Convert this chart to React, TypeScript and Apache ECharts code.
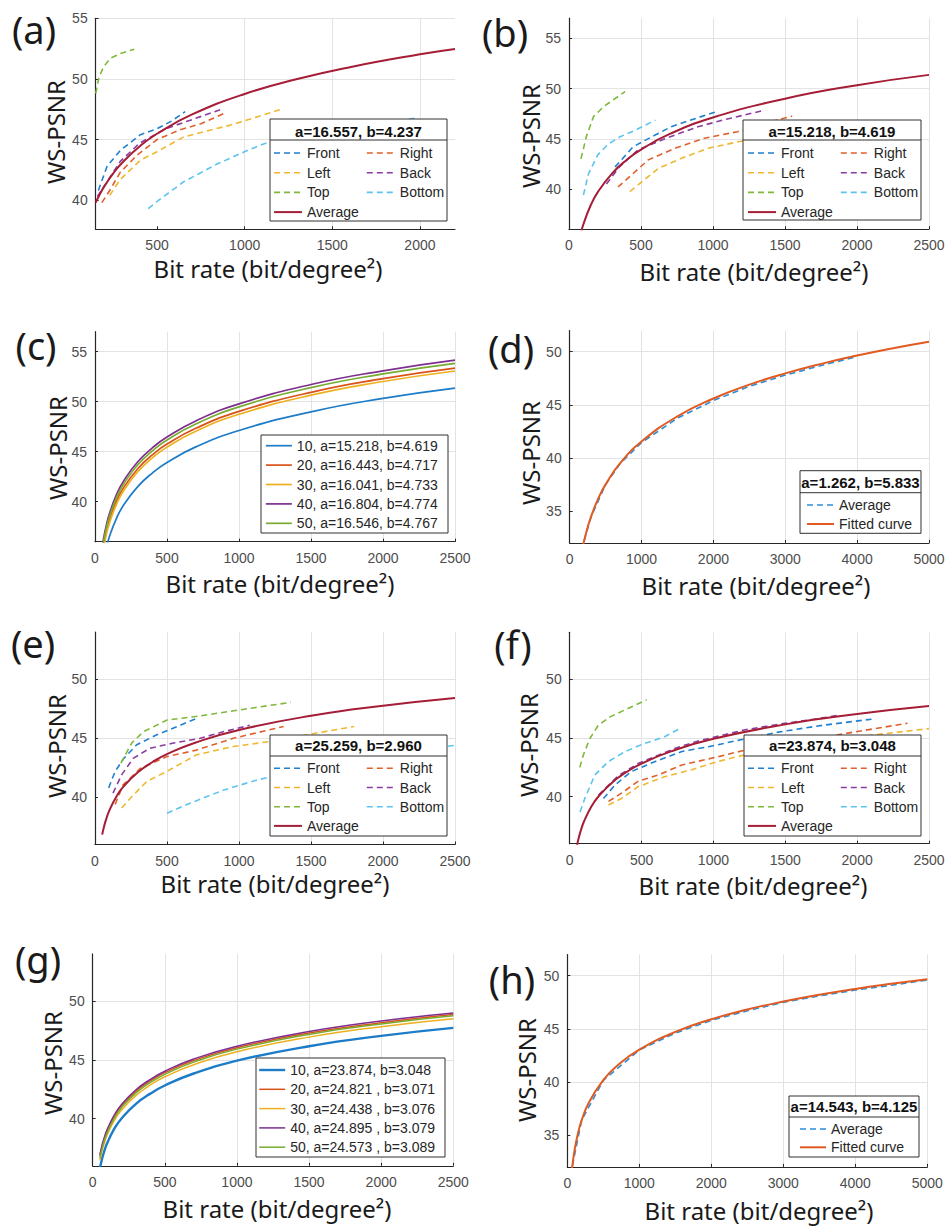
import React, { useEffect, useRef } from "react";
import * as echarts from "echarts";

// ---------------- data ----------------
// panel (a)
const A_FRONT = [[165, 40.8], [215, 42.8], [290, 44.1], [405, 45.4], [500, 45.9], [580, 46.5], [660, 47.3]];
const A_RIGHT = [[185, 39.8], [230, 40.8], [290, 42.3], [385, 43.7], [500, 45.0], [630, 45.8], [750, 46.3], [890, 47.2]];
const A_LEFT = [[230, 40.4], [290, 41.7], [405, 43.3], [500, 44.0], [650, 45.2], [770, 45.65], [920, 46.2], [1200, 47.45]];
const A_BACK = [[160, 40.3], [205, 41.3], [290, 43.2], [400, 44.7], [550, 45.9], [690, 46.6], [870, 47.5]];
const A_TOP = [[150, 48.8], [168, 50.1], [195, 51.0], [233, 51.7], [290, 52.1], [370, 52.45]];
const A_BOTTOM = [[450, 39.3], [510, 40.0], [650, 41.5], [845, 43.0], [1015, 44.1], [1120, 44.7], [1500, 45.8], [1970, 46.75]];
const A_AVG_X = [150, 175, 200, 250, 300, 400, 500, 700, 1000, 1300, 1600, 2000, 2200];
const A_AVG_Y = [39.8, 40.53, 41.16, 42.21, 43.07, 44.43, 45.48, 47.07, 48.76, 49.99, 50.97, 52.03, 52.47];

// panel (b)
const B_FRONT = [[320, 42.2], [445, 44.2], [595, 45.35], [710, 46.2], [895, 47.1], [1025, 47.7]];
const B_RIGHT = [[340, 40.2], [435, 41.4], [550, 42.9], [735, 44.05], [940, 45.05], [1170, 45.7], [1400, 46.7], [1550, 47.25]];
const B_LEFT = [[423, 39.75], [505, 40.7], [620, 42.05], [780, 43.05], [965, 44.05], [1175, 44.7], [1500, 45.4]];
const B_BACK = [[260, 40.5], [350, 42.2], [480, 43.9], [665, 45.0], [895, 46.2], [1080, 46.9], [1360, 47.85]];
const B_TOP = [[83, 43.0], [100, 44.0], [120, 45.2], [170, 47.2], [240, 48.2], [390, 49.7]];
const B_BOTTOM = [[100, 39.4], [135, 41.5], [200, 43.4], [275, 44.5], [355, 45.2], [460, 45.85], [600, 46.85]];

// shared bit-rate samples for the fitted curves of (b), (c), (e), (f), (g)
const FIT_X = [50, 60, 75, 100, 150, 200, 300, 400, 500, 700, 1000, 1500, 2000, 2500];
// panel (c) (curve "10" is also the Average of (b))
const C_10 = [33.29, 34.13, 35.16, 36.49, 38.36, 39.69, 41.56, 42.89, 43.92, 45.48, 47.12, 48.99, 50.33, 51.36];
const C_20 = [34.90, 35.75, 36.81, 38.17, 40.08, 41.43, 43.35, 44.70, 45.76, 47.34, 49.03, 50.94, 52.30, 53.35];
const C_30 = [34.56, 35.42, 36.47, 37.84, 39.76, 41.12, 43.04, 44.40, 45.46, 47.05, 48.74, 50.65, 52.02, 53.07];
const C_40 = [35.48, 36.35, 37.41, 38.79, 40.73, 42.10, 44.04, 45.40, 46.47, 48.08, 49.78, 51.72, 53.09, 54.16];
const C_50 = [35.19, 36.06, 37.13, 38.50, 40.43, 41.80, 43.74, 45.10, 46.17, 47.77, 49.48, 51.41, 52.78, 53.84];
const C_NAMES = ["10, a=15.218, b=4.619", "20, a=16.443, b=4.717", "30, a=16.041, b=4.733", "40, a=16.804, b=4.774", "50, a=16.546, b=4.767"];

// panel (d)
const D_FIT_X = [190, 200, 250, 300, 400, 500, 700, 1000, 1500, 2000, 2500, 3000, 3500, 4000, 4500, 5000];
const D_FIT_Y = [31.87, 32.17, 33.47, 34.53, 36.21, 37.51, 39.48, 41.55, 43.92, 45.60, 46.90, 47.96, 48.86, 49.64, 50.33, 50.94];
const D_AVG = [[200, 32.2], [300, 34.5], [500, 37.5], [700, 39.45], [1000, 41.45], [1250, 42.6], [1500, 43.75], [2000, 45.4], [2500, 46.75], [3000, 47.8], [3500, 48.7], [4000, 49.55]];

// panel (e)
const E_FRONT = [[95, 40.8], [140, 42.2], [200, 43.3], [290, 44.45], [430, 45.3], [590, 46.1], [710, 46.7]];
const E_RIGHT = [[140, 39.4], [195, 41.05], [315, 42.45], [500, 43.45], [705, 44.0], [960, 45.0], [1310, 46.0]];
const E_LEFT = [[185, 39.1], [255, 40.05], [360, 41.35], [500, 42.2], [705, 43.6], [960, 44.3], [1260, 44.8], [1540, 45.45], [1800, 46.0]];
const E_BACK = [[125, 40.35], [185, 41.9], [265, 43.3], [380, 44.15], [545, 44.6], [730, 45.0], [890, 45.55], [1075, 46.1]];
const E_TOP = [[180, 42.9], [255, 44.6], [335, 45.55], [500, 46.55], [730, 46.9], [1000, 47.4], [1360, 48.05]];
const E_BOTTOM = [[500, 38.65], [660, 39.5], [890, 40.6], [1120, 41.45], [1500, 42.5], [2000, 43.6], [2500, 44.4]];
const E_AVG_Y = [36.84, 37.38, 38.04, 38.89, 40.09, 40.94, 42.14, 42.99, 43.66, 44.65, 45.71, 46.91, 47.76, 48.42];

// panel (f)
const F_FRONT = [[235, 39.85], [315, 41.0], [430, 42.15], [595, 43.0], [780, 43.85], [965, 44.25], [1170, 44.8], [1450, 45.5], [1770, 46.1], [2100, 46.6]];
const F_RIGHT = [[270, 39.6], [360, 40.3], [475, 41.3], [615, 41.85], [780, 42.7], [1030, 43.4], [1265, 44.1], [1590, 44.7], [2000, 45.55], [2350, 46.25]];
const F_LEFT = [[270, 39.3], [360, 39.85], [475, 40.85], [660, 41.7], [850, 42.3], [1030, 43.0], [1265, 43.7], [1600, 44.4], [2000, 45.1], [2500, 45.8]];
const F_BACK = [[200, 40.15], [340, 41.8], [480, 42.85], [730, 44.1], [895, 44.75], [1220, 45.7], [1470, 46.2], [1700, 46.6], [1880, 46.95]];
const F_TOP = [[70, 42.5], [95, 43.55], [140, 44.95], [200, 46.1], [280, 46.8], [385, 47.4], [535, 48.25]];
const F_BOTTOM = [[72, 38.7], [105, 39.85], [175, 41.85], [270, 43.0], [385, 43.85], [525, 44.55], [660, 45.1], [765, 45.8]];

// panel (g) (curve "10" is also the Average of (f))
const G_10 = [35.80, 36.35, 37.03, 37.91, 39.15, 40.02, 41.26, 42.13, 42.82, 43.84, 44.93, 46.16, 47.04, 47.72];
const G_20 = [36.83, 37.39, 38.08, 38.96, 40.21, 41.09, 42.34, 43.22, 43.91, 44.94, 46.03, 47.28, 48.16, 48.85];
const G_30 = [36.47, 37.03, 37.72, 38.60, 39.85, 40.74, 41.98, 42.87, 43.56, 44.59, 45.69, 46.93, 47.82, 48.50];
const G_40 = [36.94, 37.50, 38.19, 39.07, 40.32, 41.21, 42.46, 43.34, 44.03, 45.07, 46.16, 47.41, 48.30, 48.98];
const G_50 = [36.66, 37.22, 37.91, 38.80, 40.05, 40.94, 42.19, 43.08, 43.77, 44.81, 45.91, 47.16, 48.05, 48.74];
const G_NAMES = ["10, a=23.874, b=3.048", "20, a=24.821 , b=3.071", "30, a=24.438 , b=3.076", "40, a=24.895 , b=3.079", "50, a=24.573 , b=3.089"];

// panel (h)
const H_FIT_X = [65, 70, 100, 150, 200, 300, 500, 700, 1000, 1500, 2000, 2500, 3000, 3500, 4000, 4500, 5000];
const H_FIT_Y = [31.76, 32.07, 33.54, 35.21, 36.40, 38.07, 40.18, 41.57, 43.04, 44.71, 45.90, 46.82, 47.57, 48.21, 48.76, 49.24, 49.68];
const H_AVG = [[70, 32.1], [200, 36.4], [500, 40.15], [1000, 43.0], [1500, 44.6], [2000, 45.8], [2500, 46.7], [3000, 47.5], [3500, 48.1], [4000, 48.65], [4500, 49.1], [5000, 49.6]];

// titles / tick labels
const FIT_TITLES: Record<string, string> = {
  a: "a=16.557, b=4.237",
  b: "a=15.218, b=4.619",
  d: "a=1.262, b=5.833",
  e: "a=25.259, b=2.960",
  f: "a=23.874, b=3.048",
  h: "a=14.543, b=4.125",
};
const FACES = ["Front", "Right", "Left", "Back", "Top", "Bottom"];
const X_TICKS_A = [500, 1000, 1500, 2000];
const Y_TICKS_40_55 = [40, 45, 50, 55];
const Y_TICKS_40_50 = [40, 45, 50];
const Y_TICKS_35_50 = [35, 40, 45, 50];
const X_LABEL = "Bit rate (bit/degree\u00B2)";
const Y_LABEL = "WS-PSNR";

// ---------------- styles / layout ----------------
const FONT = '"Liberation Sans", Arial, Helvetica, sans-serif';
const NAME_FONT = '"Noto Sans", "Open Sans", sans-serif';
const AXIS = "#262626";
const TICK = "#4d4d4d";
const GRIDC = "#e3e3e3";
const FACE_COLORS = ["#1f80d0", "#e0602c", "#f0b730", "#8a3d9e", "#7fb83a", "#5cc4ee"];
const AVG_COLOR = "#a51d36";
const CURVE_COLORS = ["#1c7cc8", "#d95319", "#edb120", "#7e2f8e", "#77ac30"];
const DASH = [6, 4];

type PanelCfg = {
  id: string;
  grid: [number, number, number, number];
  x: { min: number; max: number; interval?: number; ticks?: number[] };
  y: { min: number; max: number; ticks: number[] };
  label: [number, number];
  xName: [number, number];
  yName: [number, number];
};

const PANELS: PanelCfg[] = [
  { id: "a", grid: [95.7, 18.3, 359.3, 211], x: { min: 150, max: 2200, ticks: X_TICKS_A }, y: { min: 37.6, max: 55, ticks: Y_TICKS_40_55 }, label: [34, 29], xName: [268, 268], yName: [55, 132] },
  { id: "b", grid: [569, 18.2, 360, 211], x: { min: 0, max: 2500, interval: 500 }, y: { min: 36, max: 57, ticks: Y_TICKS_40_55 }, label: [505, 32], xName: [754, 271], yName: [530, 136] },
  { id: "c", grid: [95, 331.7, 360, 210], x: { min: 0, max: 2500, interval: 500 }, y: { min: 36, max: 57, ticks: Y_TICKS_40_55 }, label: [36, 345], xName: [280, 583], yName: [57, 448] },
  { id: "d", grid: [569.7, 330.5, 359.3, 212.4], x: { min: 0, max: 5000, interval: 1000 }, y: { min: 32, max: 52, ticks: Y_TICKS_35_50 }, label: [511, 348], xName: [756, 585], yName: [530, 453] },
  { id: "e", grid: [95, 632.1, 360, 212.4], x: { min: 0, max: 2500, interval: 500 }, y: { min: 36, max: 54, ticks: Y_TICKS_40_50 }, label: [33, 643], xName: [275, 883], yName: [56, 746] },
  { id: "f", grid: [569.7, 632.3, 359.3, 211.4], x: { min: 0, max: 2500, interval: 500 }, y: { min: 36, max: 54, ticks: Y_TICKS_40_50 }, label: [513, 644], xName: [753, 885], yName: [528, 745] },
  { id: "g", grid: [92.7, 953.9, 360.6, 211.9], x: { min: 0, max: 2500, interval: 500 }, y: { min: 36, max: 54, ticks: Y_TICKS_40_50 }, label: [38, 959], xName: [277, 1208], yName: [52.5, 1063] },
  { id: "h", grid: [567.3, 954.5, 360, 212.4], x: { min: 0, max: 5000, interval: 1000 }, y: { min: 32, max: 52, ticks: Y_TICKS_35_50 }, label: [512, 979], xName: [759, 1210], yName: [526.5, 1070] },
];

// legend boxes: [x, y, w, h], title centre y, separator y, columns
type LegCol = { left: number; top: number; names: string[] };
type LegCfg = { box: [number, number, number, number]; titleY?: number; sepY?: number; itemWidth: number; itemGap: number; cols: LegCol[] };

const zip = (xs: number[], ys: number[]) => xs.map((x, i) => [x, ys[i]]);
const strip = (n: string) => n.split("@")[0];
const plain = (v: number) => String(v);

function buildOption() {
  const grid: any[] = [];
  const xAxis: any[] = [];
  const yAxis: any[] = [];
  const series: any[] = [];
  const legend: any[] = [];
  const graphic: any[] = [];

  PANELS.forEach((p, i) => {
    grid.push({ left: p.grid[0], top: p.grid[1], width: p.grid[2], height: p.grid[3], containLabel: false, outerBoundsMode: "none" });
    const xCustom = p.x.ticks ? { customValues: p.x.ticks } : {};
    xAxis.push({
      type: "value",
      gridIndex: i,
      min: p.x.min,
      max: p.x.max,
      ...(p.x.interval ? { interval: p.x.interval } : {}),
      axisLine: { show: true, onZero: false, lineStyle: { color: AXIS, width: 1.2 } },
      axisTick: { show: true, inside: true, length: 3, lineStyle: { color: AXIS }, ...xCustom },
      axisLabel: { show: true, color: TICK, fontSize: 14, fontFamily: FONT, margin: 9, formatter: plain, ...xCustom },
      splitLine: { show: true, showMinLine: false, lineStyle: { color: GRIDC, width: 1 } },
    });
    yAxis.push({
      type: "value",
      gridIndex: i,
      min: p.y.min,
      max: p.y.max,
      axisLine: { show: true, onZero: false, lineStyle: { color: AXIS, width: 1.2 } },
      axisTick: { show: true, inside: true, length: 3, lineStyle: { color: AXIS }, customValues: p.y.ticks },
      axisLabel: { show: true, color: TICK, fontSize: 14, fontFamily: FONT, margin: 8, formatter: plain, customValues: p.y.ticks },
      splitLine: { show: true, showMinLine: false, lineStyle: { color: GRIDC, width: 1 } },
    });
    graphic.push(
      { type: "text", x: p.label[0], y: p.label[1], z: 5, style: { text: `(${p.id})`, fill: "#1a1a1a", font: `38px ${NAME_FONT}`, align: "center", verticalAlign: "middle" } },
      { type: "text", x: p.xName[0], y: p.xName[1], z: 5, style: { text: X_LABEL, fill: "#1a1a1a", font: `24px ${NAME_FONT}`, align: "center", verticalAlign: "middle" } },
      { type: "text", x: p.yName[0], y: p.yName[1], rotation: Math.PI / 2, z: 5, style: { text: Y_LABEL, fill: "#1a1a1a", font: `24px ${NAME_FONT}`, align: "center", verticalAlign: "middle" } }
    );
  });

  const line = (name: string, idx: number, data: number[][], color: string, width: number, dashed: boolean, smooth: boolean) => {
    series.push({
      type: "line",
      name,
      xAxisIndex: idx,
      yAxisIndex: idx,
      data,
      color,
      symbol: "none",
      showSymbol: false,
      smooth,
      silent: true,
      z: 2,
      lineStyle: { color, width, type: dashed ? DASH : "solid" },
      itemStyle: { color },
    });
  };

  // face panels (a, b, e, f)
  const facePanels: [number, string, number[][][], number[][]][] = [
    [0, "a", [A_FRONT, A_RIGHT, A_LEFT, A_BACK, A_TOP, A_BOTTOM], zip(A_AVG_X, A_AVG_Y)],
    [1, "b", [B_FRONT, B_RIGHT, B_LEFT, B_BACK, B_TOP, B_BOTTOM], zip(FIT_X, C_10)],
    [4, "e", [E_FRONT, E_RIGHT, E_LEFT, E_BACK, E_TOP, E_BOTTOM], zip(FIT_X, E_AVG_Y)],
    [5, "f", [F_FRONT, F_RIGHT, F_LEFT, F_BACK, F_TOP, F_BOTTOM], zip(FIT_X, G_10)],
  ];
  facePanels.forEach(([idx, id, faces, avg]) => {
    faces.forEach((d, k) => line(`${FACES[k]}@${id}`, idx, d, FACE_COLORS[k], 1.6, true, false));
    line(`Average@${id}`, idx, avg, AVG_COLOR, 2, false, true);
  });

  // (c) and (g)
  [C_10, C_20, C_30, C_40, C_50].forEach((ys, k) => line(`${C_NAMES[k]}@c`, 2, zip(FIT_X, ys), CURVE_COLORS[k], 1.7, false, true));
  [G_10, G_20, G_30, G_40, G_50].forEach((ys, k) => line(`${G_NAMES[k]}@g`, 6, zip(FIT_X, ys), CURVE_COLORS[k], k === 0 ? 2.4 : 1.5, false, true));

  // (d) and (h)
  line("Average@d", 3, D_AVG, "#2a8fd8", 1.6, true, false);
  line("Fitted curve@d", 3, zip(D_FIT_X, D_FIT_Y), "#e05a22", 2, false, true);
  line("Average@h", 7, H_AVG, "#2a8fd8", 1.6, true, false);
  line("Fitted curve@h", 7, zip(H_FIT_X, H_FIT_Y), "#e05a22", 2, false, true);

  const faceCols = (id: string, l1: number, l2: number, top: number): LegCol[] => [
    { left: l1, top, names: [`Front@${id}`, `Left@${id}`, `Top@${id}`, `Average@${id}`] },
    { left: l2, top, names: [`Right@${id}`, `Back@${id}`, `Bottom@${id}`] },
  ];
  const legends: [string | null, LegCfg][] = [
    ["a", { box: [270, 119, 177, 102], titleY: 131.5, sepY: 140, itemWidth: 28, itemGap: 5.7, cols: faceCols("a", 273, 366, 146) }],
    ["b", { box: [743, 120, 178, 100], titleY: 131.5, sepY: 140, itemWidth: 28, itemGap: 5.7, cols: faceCols("b", 747, 840, 146) }],
    ["e", { box: [270, 735, 177, 101], titleY: 745.7, sepY: 756, itemWidth: 28, itemGap: 5.2, cols: faceCols("e", 273, 366, 761.3) }],
    ["f", { box: [744, 735, 177, 101], titleY: 745.7, sepY: 756, itemWidth: 28, itemGap: 5.2, cols: faceCols("f", 747, 840, 761.3) }],
    [null, { box: [261, 435, 187, 98], itemWidth: 26, itemGap: 5.4, cols: [{ left: 265, top: 438.7, names: C_NAMES.map((n) => `${n}@c`) }] }],
    [null, { box: [256, 1058, 189, 99], itemWidth: 26, itemGap: 5.3, cols: [{ left: 258, top: 1063, names: G_NAMES.map((n) => `${n}@g`) }] }],
    ["d", { box: [800, 470.7, 121, 62.6], titleY: 482.7, sepY: 492.7, itemWidth: 27, itemGap: 5, cols: [{ left: 806, top: 498, names: ["Average@d", "Fitted curve@d"] }] }],
    ["h", { box: [789, 1096, 130, 61], titleY: 1106.7, sepY: 1117, itemWidth: 26, itemGap: 4.3, cols: [{ left: 799, top: 1122, names: ["Average@h", "Fitted curve@h"] }] }],
  ];

  legends.forEach(([id, cfg]) => {
    const [bx, by, bw, bh] = cfg.box;
    graphic.push({ type: "rect", z: 3, shape: { x: bx, y: by, width: bw, height: bh }, style: { fill: "#ffffff", stroke: "#303030", lineWidth: 1 } });
    if (id && cfg.titleY !== undefined) {
      graphic.push({ type: "text", z: 5, x: bx + bw / 2, y: cfg.titleY, style: { text: FIT_TITLES[id], fill: "#111", font: `bold 15px ${FONT}`, align: "center", verticalAlign: "middle" } });
      graphic.push({ type: "line", z: 5, shape: { x1: bx, y1: cfg.sepY, x2: bx + bw, y2: cfg.sepY }, style: { stroke: "#303030", lineWidth: 1 } });
    }
    cfg.cols.forEach((c) => {
      legend.push({
        show: true,
        orient: "vertical",
        left: c.left,
        top: c.top,
        padding: 0,
        itemGap: cfg.itemGap,
        itemWidth: cfg.itemWidth,
        itemHeight: 14,
        selectedMode: false,
        formatter: strip,
        data: c.names.map((n) => {
          const s = series.find((ss) => ss.name === n);
          return { name: n, lineStyle: { width: s ? s.lineStyle.width : 1.6 } };
        }),
        itemStyle: { opacity: 0 },
        textStyle: { fontSize: 14, color: "#262626", fontFamily: FONT },
        z: 6,
      });
    });
  });

  return { animation: false, backgroundColor: "#ffffff", grid, xAxis, yAxis, series, legend, graphic };
}

export default function App() {
  const ref = useRef<HTMLDivElement>(null);
  useEffect(() => {
    if (!ref.current) return;
    const chart = echarts.init(ref.current, undefined, { renderer: "svg" });
    chart.setOption(buildOption() as any);
    return () => chart.dispose();
  }, []);
  return <div ref={ref} style={{ position: "absolute", left: 0, top: 0, width: 948, height: 1226, background: "#fff" }} />;
}
